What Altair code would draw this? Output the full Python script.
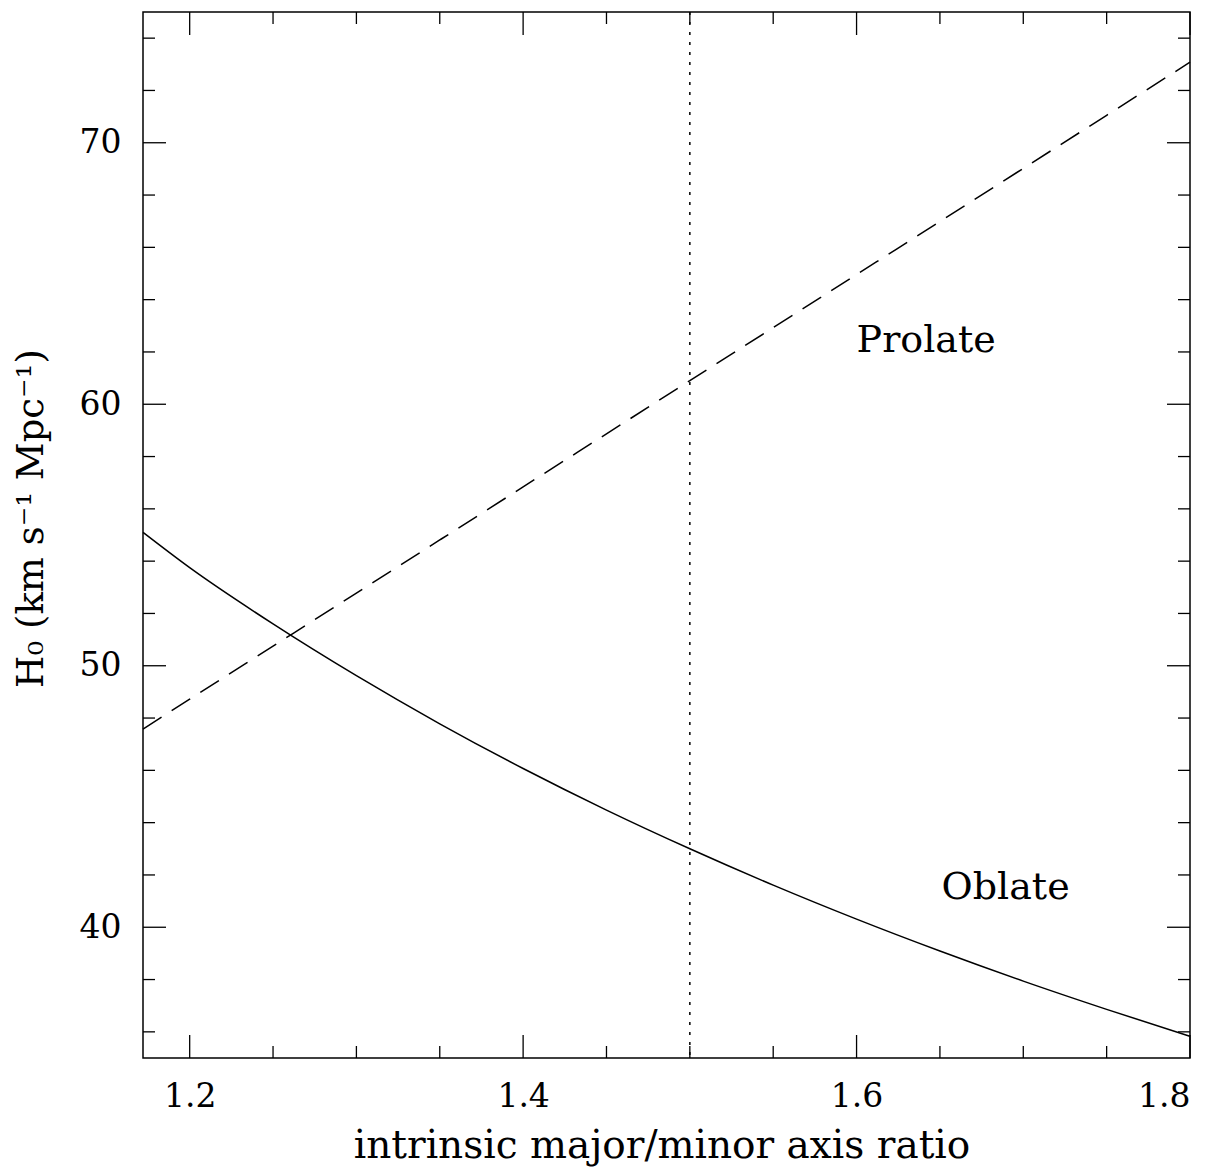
import altair as alt
import pandas as pd

# Data
q_vals = [1.172, 1.20, 1.25, 1.30, 1.35, 1.40, 1.45, 1.50, 1.55, 1.60, 1.65, 1.70, 1.75, 1.80]
prolate = [47.58, 48.72, 50.75, 52.78, 54.81, 56.84, 58.87, 60.9, 62.93, 64.96, 66.99, 69.02, 71.05, 73.08]
oblate = [55.1, 53.75, 51.6, 49.62, 47.78, 46.07, 44.48, 43.0, 41.61, 40.31, 39.09, 37.94, 36.86, 35.83]

x_major = [1.2, 1.4, 1.6, 1.8]
x_minor = [1.25, 1.3, 1.35, 1.45, 1.5, 1.55, 1.65, 1.7, 1.75]
y_major = [40, 50, 60, 70]
y_minor = [36, 38, 42, 44, 46, 48, 52, 54, 56, 58, 62, 64, 66, 68, 72, 74]

ref_q = [1.5]
label_names = ["Prolate", "Oblate"]
label_x = [1.6, 1.651]
label_y = [62.4, 41.5]

x_domain = [1.172, 1.8]
y_domain = [35, 75]

W, H = 1047, 1046
MAJ, MIN = 23, 12
FONT = "DejaVu Serif"

xs = alt.Scale(domain=x_domain, nice=False, zero=False)
ys = alt.Scale(domain=y_domain, nice=False, zero=False)

df = pd.DataFrame({"q": q_vals, "prolate": prolate, "oblate": oblate})

x_axis = alt.Axis(values=x_major, format=".1f", title="intrinsic major/minor axis ratio",
                  labelPadding=22, titleFontSize=39, titleBaseline="alphabetic",
                  titleX=W / 2 - 5, titleY=99, titleAlign="center")
y_axis = alt.Axis(values=y_major, format="d", title="H₀ (km s⁻¹ Mpc⁻¹)",
                  labelPadding=22, titleAngle=270, titleBaseline="middle", titleFontSize=37,
                  titleX=-112, titleY=506, titleAlign="center")

oblate_line = alt.Chart(df).mark_line(color="black", strokeWidth=1.5, interpolate="monotone").encode(
    x=alt.X("q:Q", scale=xs, axis=x_axis),
    y=alt.Y("oblate:Q", scale=ys, axis=y_axis),
)
prolate_line = alt.Chart(df).mark_line(color="black", strokeWidth=1.5, strokeDash=[22, 12],
                                       interpolate="monotone").encode(
    x=alt.X("q:Q", scale=xs),
    y=alt.Y("prolate:Q", scale=ys),
)
ref_line = alt.Chart(pd.DataFrame({"q": ref_q})).mark_rule(color="black", strokeWidth=1.5,
                                                           strokeDash=[3, 7]).encode(
    x=alt.X("q:Q", scale=xs), y=alt.value(0), y2=alt.value(H)
)

labels = alt.Chart(pd.DataFrame({"name": label_names, "x": label_x, "y": label_y})).mark_text(
    align="left", baseline="middle", font=FONT, fontSize=38, color="black"
).encode(x=alt.X("x:Q", scale=xs), y=alt.Y("y:Q", scale=ys), text="name:N")


def xticks(vals, length):
    d = pd.DataFrame({"v": vals})
    bottom = alt.Chart(d).mark_rule(color="black", strokeWidth=1.3).encode(
        x=alt.X("v:Q", scale=xs), y=alt.value(H), y2=alt.value(H - length))
    top = alt.Chart(d).mark_rule(color="black", strokeWidth=1.3).encode(
        x=alt.X("v:Q", scale=xs), y=alt.value(0), y2=alt.value(length))
    return [bottom, top]


def yticks(vals, length):
    d = pd.DataFrame({"v": vals})
    left = alt.Chart(d).mark_rule(color="black", strokeWidth=1.3).encode(
        y=alt.Y("v:Q", scale=ys), x=alt.value(0), x2=alt.value(length))
    right = alt.Chart(d).mark_rule(color="black", strokeWidth=1.3).encode(
        y=alt.Y("v:Q", scale=ys), x=alt.value(W), x2=alt.value(W - length))
    return [left, right]


layers = [oblate_line, prolate_line, ref_line, labels]
layers += xticks(x_major, MAJ) + xticks(x_minor, MIN)
layers += yticks(y_major, MAJ) + yticks(y_minor, MIN)

chart = alt.layer(*layers).properties(
    width=W, height=H,
    padding={"left": 143, "top": 12, "right": 33, "bottom": 112},
    autosize=alt.AutoSizeParams(type="none"),
    background="white",
).configure_view(
    stroke="black", strokeWidth=1.5
).configure_axis(
    grid=False, domain=False, ticks=False,
    labelFont=FONT, labelFontSize=33, labelColor="black",
    titleFont=FONT, titleColor="black", titleFontWeight="normal",
)

chart.save("out.html", embed_options={"renderer": "svg", "actions": False})
